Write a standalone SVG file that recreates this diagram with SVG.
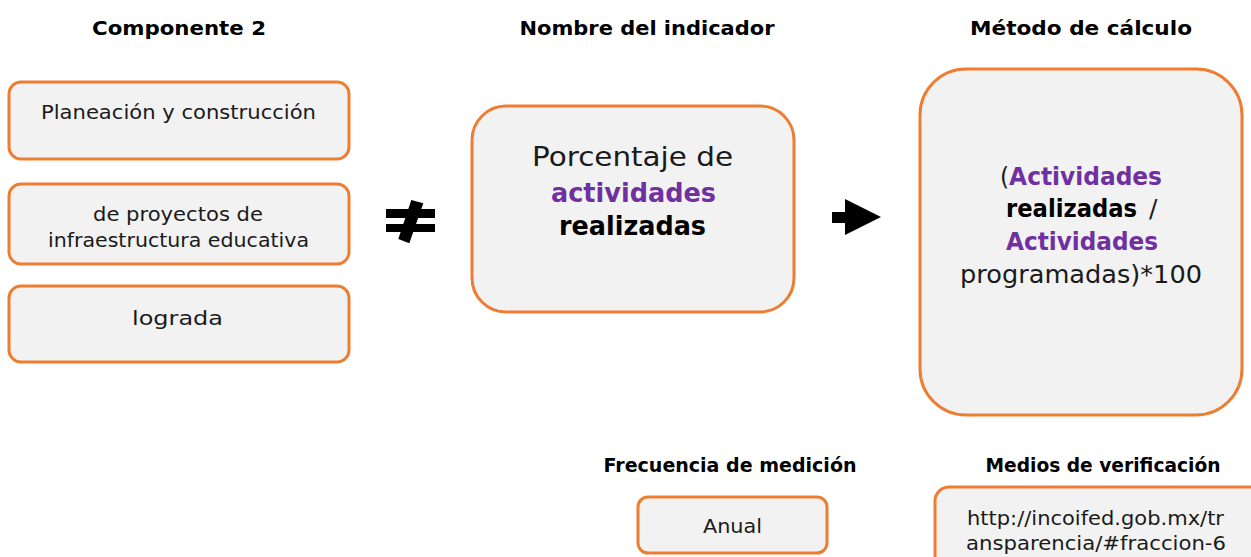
<svg xmlns="http://www.w3.org/2000/svg" width="1251" height="557" viewBox="0 0 1251 557">
<style>
.box{fill:#F2F2F2;stroke:#ED7D31;stroke-width:3}
.t{font-family:"DejaVu Sans","Liberation Sans",sans-serif;fill:#1a1a1a;text-anchor:middle}
.h{font-family:"DejaVu Sans","Liberation Sans",sans-serif;font-weight:bold;fill:#000;text-anchor:middle;font-size:19px}
.b{font-weight:bold;fill:#000}
.p{font-weight:bold;fill:#7030A0}
</style>
<rect width="1251" height="557" fill="#fff"/>
<g id="headers">
<text class="h" x="179" y="35" textLength="174" lengthAdjust="spacingAndGlyphs">Componente 2</text>
<text class="h" x="647" y="35" textLength="255" lengthAdjust="spacingAndGlyphs">Nombre del indicador</text>
<text class="h" x="1081" y="35" textLength="222" lengthAdjust="spacingAndGlyphs">Método de cálculo</text>
<text class="h" x="730" y="472" textLength="253" lengthAdjust="spacingAndGlyphs">Frecuencia de medición</text>
<text class="h" x="1103" y="472" textLength="235" lengthAdjust="spacingAndGlyphs">Medios de verificación</text>
</g>
<g id="comp1">
<rect class="box" x="9" y="82" width="340" height="77" rx="12"/>
<text class="t" x="178.5" y="119" font-size="20" textLength="275" lengthAdjust="spacingAndGlyphs">Planeación y construcción</text>
</g>
<g id="comp2">
<rect class="box" x="9" y="184" width="340" height="80" rx="12"/>
<text class="t" x="178" y="221" font-size="20" textLength="170" lengthAdjust="spacingAndGlyphs">de proyectos de</text>
<text class="t" x="178.5" y="247" font-size="20" textLength="261" lengthAdjust="spacingAndGlyphs">infraestructura educativa</text>
</g>
<g id="comp3">
<rect class="box" x="9" y="286" width="340" height="76" rx="12"/>
<text class="t" x="177.5" y="325" font-size="20" textLength="91" lengthAdjust="spacingAndGlyphs">lograda</text>
</g>
<g id="indicador">
<rect class="box" x="472" y="106" width="322" height="206" rx="34"/>
<text class="t" x="632.5" y="166" font-size="27" textLength="201" lengthAdjust="spacingAndGlyphs">Porcentaje de</text>
<text class="t p" x="633.5" y="202" font-size="27" textLength="165" lengthAdjust="spacingAndGlyphs">actividades</text>
<text class="t b" x="632.5" y="235" font-size="27" textLength="147" lengthAdjust="spacingAndGlyphs">realizadas</text>
</g>
<g id="calculo">
<rect class="box" x="920" y="69" width="322" height="346" rx="46"/>
<text class="t" x="1081" y="185" font-size="25" textLength="162" lengthAdjust="spacingAndGlyphs">(<tspan class="p">Actividades</tspan></text>
<text class="t b" x="1006" y="217" font-size="25" text-anchor="start" style="text-anchor:start" textLength="131" lengthAdjust="spacingAndGlyphs">realizadas</text>
<text class="t" x="1149" y="217" font-size="25" style="text-anchor:start">/</text>
<text class="t p" x="1082" y="250" font-size="25" textLength="152" lengthAdjust="spacingAndGlyphs">Actividades</text>
<text class="t" x="1081" y="283" font-size="25" textLength="242" lengthAdjust="spacingAndGlyphs">programadas)*100</text>
</g>
<g id="frecuencia">
<rect class="box" x="638" y="497" width="189" height="56" rx="10"/>
<text class="t" x="732.5" y="533" font-size="20" textLength="59" lengthAdjust="spacingAndGlyphs">Anual</text>
</g>
<g id="medios">
<rect class="box" x="935" y="487" width="330" height="90" rx="14"/>
<text class="t" x="1095.5" y="525" font-size="20" textLength="257" lengthAdjust="spacingAndGlyphs">http://incoifed.gob.mx/tr</text>
<text class="t" x="1096" y="550" font-size="20" textLength="260" lengthAdjust="spacingAndGlyphs">ansparencia/#fraccion-6</text>
</g>
<g id="connectors">
<g id="noteq" fill="#000">
<rect x="386" y="209" width="49" height="9"/>
<rect x="386" y="224" width="49" height="8"/>
<polygon points="411.3,200 423.3,203.3 409.3,243.3 398.3,239"/>
</g>
<g id="arrow" fill="#000">
<polygon points="832,212 845,212 845,199 881,217 845,235 845,223 832,223"/>
</g>
</g>
</svg>
